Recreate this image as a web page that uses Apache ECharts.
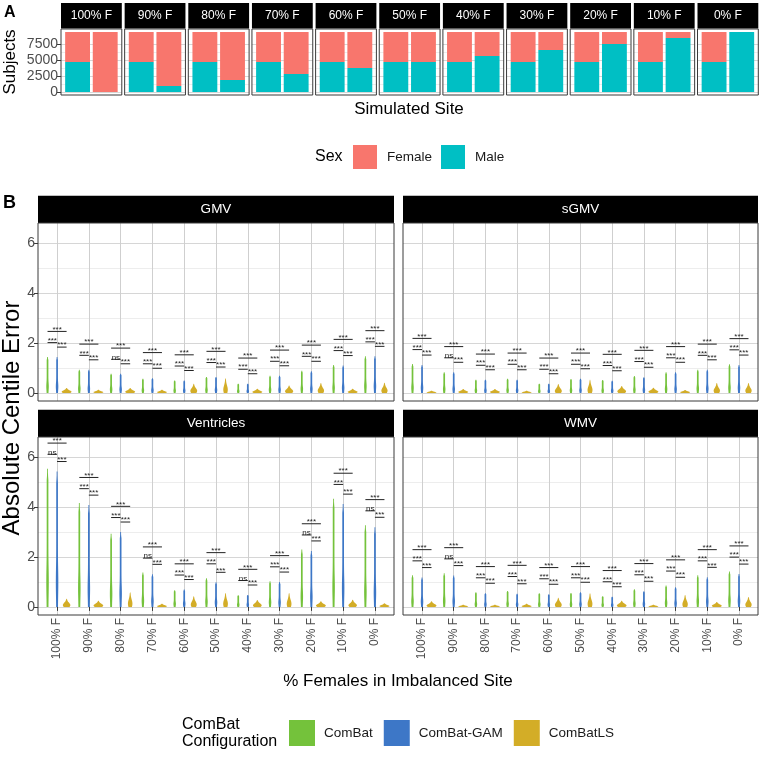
<!DOCTYPE html>
<html><head><meta charset="utf-8">
<script src="https://cdn.jsdelivr.net/npm/echarts@6/dist/echarts.min.js"></script>
<style>html,body{margin:0;padding:0;background:#fff}#c{width:763px;height:757px}</style>
</head><body><div id="c"></div>
<script>
// ---------------- DATA ----------------
const facetLabels = ['100% F','90% F','80% F','70% F','60% F','50% F','40% F','30% F','20% F','10% F','0% F'];
const siteCats = ['Reference site','Imbalanced site'];
const femaleRef = [4700,4700,4700,4700,4700,4700,4700,4700,4700,4700,4700];
const maleRef   = [4700,4700,4700,4700,4700,4700,4700,4700,4700,4700,4700];
const femaleImb = [9400,8460,7520,6580,5640,4700,3760,2820,1880,940,0];
const maleImb   = [0,940,1880,2820,3760,4700,5640,6580,7520,8460,9400];
const sexTicks = [0,2500,5000,7500];

const xCats = ['100% F','90% F','80% F','70% F','60% F','50% F','40% F','30% F','20% F','10% F','0% F'];
const errTicks = [0,2,4,6];
const configs = ['ComBat','ComBat-GAM','ComBatLS'];

const gmvComBat = [1.44,0.93,0.77,0.57,0.50,0.64,0.37,0.69,0.89,1.12,1.47];
const gmvGAM    = [1.44,0.93,0.77,0.59,0.50,0.64,0.37,0.69,0.87,1.10,1.47];
const gmvLS     = [0.20,0.13,0.20,0.13,0.37,0.59,0.17,0.30,0.40,0.17,0.41];
const gmvSig    = ['***','***','ns','***','***','***','***','***','***','***','***'];

const sgmvComBat = [1.16,0.83,0.53,0.57,0.37,0.56,0.52,0.68,0.83,0.93,1.15];
const sgmvGAM    = [1.12,0.83,0.53,0.53,0.37,0.57,0.49,0.63,0.83,0.93,1.12];
const sgmvLS     = [0.09,0.16,0.16,0.09,0.36,0.53,0.28,0.21,0.12,0.40,0.40];
const sgmvSig    = ['***','ns','***','***','***','***','***','***','***','***','***'];

const ventComBat = [5.55,4.17,2.94,1.38,0.67,1.15,0.47,1.03,2.31,4.34,3.28];
const ventGAM    = [5.44,4.09,3.01,1.31,0.70,0.99,0.48,1.00,2.25,4.13,3.20];
const ventLS     = [0.33,0.25,0.59,0.13,0.43,0.56,0.28,0.56,0.23,0.29,0.15];
const ventSig    = ['ns','***','***','ns','***','***','ns','***','ns','***','ns'];

const wmvComBat = [1.27,1.35,0.59,0.64,0.55,0.56,0.43,0.71,0.86,1.27,1.42];
const wmvGAM    = [1.18,1.26,0.55,0.53,0.51,0.59,0.41,0.63,0.79,1.19,1.32];
const wmvLS     = [0.23,0.09,0.09,0.13,0.37,0.55,0.25,0.09,0.48,0.20,0.40];
const wmvSig    = ['***','ns','***','***','***','***','***','***','***','***','***'];

// ---------------- STYLE / LAYOUT ----------------
const FONT = '"Liberation Sans", Arial, Helvetica, sans-serif';
const COL_F = '#F8766D', COL_M = '#00BFC4';
const COLS = ['#74c23b', '#3d77c7', '#d3ad27'];
const GRID_MAJ = '#d6d6d6', GRID_VERT = '#cfcfcf', GRID_MIN = '#ededed', BORDER = '#3a3a3a', TICKCOL = '#4d4d4d';

const A_LEFT0 = 61, A_PITCH = 63.65, A_W = 60.8, A_TOP = 29, A_H = 66, A_YMIN = -470, A_YMAX = 9870;
const B_H = 178, B_YMIN = -0.325, B_YMAX = 6.825;
const panelsB = [
  {name:'GMV', L:38, T:223, W:356, g:gmvComBat, b:gmvGAM, y:gmvLS, sig:gmvSig, left:true, bottom:false},
  {name:'sGMV', L:403, T:223, W:355, g:sgmvComBat, b:sgmvGAM, y:sgmvLS, sig:sgmvSig, left:false, bottom:false},
  {name:'Ventricles', L:38, T:437, W:356, g:ventComBat, b:ventGAM, y:ventLS, sig:ventSig, left:true, bottom:true},
  {name:'WMV', L:403, T:437, W:355, g:wmvComBat, b:wmvGAM, y:wmvLS, sig:wmvSig, left:false, bottom:true}
];

const grids = [], xAxes = [], yAxes = [], series = [], graphics = [];
function addGrid(g) { grids.push(Object.assign({outerBoundsMode:'none', containLabel:false, show:false}, g)); return grids.length - 1; }
function txt(x, y, text, o) {
  o = o || {};
  graphics.push({type:'text', x:x, y:y, rotation:o.rot || 0, z:20,
    style:{text:text, align:o.align || 'center', verticalAlign:o.va || 'middle',
      fontSize:o.size || 13, fontFamily:FONT, fontWeight:o.weight || 'normal', fill:o.color || '#000', lineHeight:o.lh}});
}
function rect(x, y, w, h, fill, stroke, z) {
  graphics.push({type:'rect', z:z || 15, shape:{x:x, y:y, width:w, height:h},
    style:{fill:fill || 'none', stroke:stroke || null, lineWidth:1}, silent:true});
}

// ---------------- PANEL A ----------------
const ppuA = A_H / (A_YMAX - A_YMIN);
const topTick = sexTicks[sexTicks.length - 1];
for (let f = 0; f < facetLabels.length; f++) {
  const L = A_LEFT0 + A_PITCH * f;
  const gi = addGrid({left:L, top:A_TOP + (A_YMAX - topTick) * ppuA, width:A_W, height:topTick * ppuA});
  xAxes.push({gridIndex:gi, type:'value', show:false, min:0, max:1});
  yAxes.push({gridIndex:gi, type:'value', min:0, max:topTick, interval:sexTicks[1] - sexTicks[0],
    axisLine:{show:false}, axisTick:{show:f === 0, length:4, lineStyle:{color:BORDER}},
    axisLabel:{show:f === 0, fontSize:14, color:TICKCOL, margin:3, fontFamily:FONT,
      formatter:function (v) { return String(v); }},
    splitLine:{show:true, lineStyle:{color:GRID_MAJ, width:1}},
    minorTick:{show:false, splitNumber:2}, minorSplitLine:{show:true, lineStyle:{color:GRID_MIN, width:1}}});
  const uA = A_W / 2.2;
  const di = addGrid({left:L + 0.1 * uA, top:A_TOP, width:2 * uA, height:A_H});
  xAxes.push({gridIndex:di, type:'category', data:siteCats, show:false});
  yAxes.push({gridIndex:di, type:'value', min:A_YMIN, max:A_YMAX, show:false, splitLine:{show:false}});
  series.push({type:'bar', name:'Male', stack:'s' + f, xAxisIndex:di, yAxisIndex:di, barWidth:'90%',
    data:[maleRef[f], maleImb[f]], itemStyle:{color:COL_M}});
  series.push({type:'bar', name:'Female', stack:'s' + f, xAxisIndex:di, yAxisIndex:di, barWidth:'90%',
    data:[femaleRef[f], femaleImb[f]], itemStyle:{color:COL_F}});
  rect(L, 3, A_W, 25.5, '#000', null, 14);
  txt(L + A_W / 2, 16, facetLabels[f], {size:12, color:'#fff'});
  rect(L, A_TOP, A_W, A_H, 'none', BORDER, 16);
}
txt(4, 12.5, 'A', {align:'left', size:16, weight:'bold'});
txt(10, 62, 'Subjects', {rot:Math.PI / 2, size:17});
txt(409, 109, 'Simulated Site', {size:17});
txt(315, 157, 'Sex', {align:'left', size:16});

// ---------------- PANEL B ----------------
function violin(offset, kind) {
  return function (params, api) {
    const x = api.value(0), m = api.value(1);
    const p0 = api.coord([x + offset, 0]);
    const p1 = api.coord([x + offset, m]);
    const H = Math.max(p0[1] - p1[1], 0.5);
    const n = 36, lp = [], rp = [];
    const Wls = Math.min(4.6, 28 / H);
    for (let k = 0; k <= n; k++) {
      const t = k / n;
      let hw;
      if (kind === 'ls') hw = Wls * Math.exp(-Math.pow((t - 0.22) / 0.4, 2)) + 0.35;
      else hw = 0.85 + 0.4 * Math.exp(-Math.pow((t - 0.18) / 0.14, 2));
      if (t > 0.92) hw *= Math.max(0.5, (1 - t) / 0.08);
      const yy = p0[1] - t * H;
      lp.push([p0[0] - hw, yy]);
      rp.unshift([p0[0] + hw, yy]);
    }
    return {type:'polygon', shape:{points:lp.concat(rp)}, style:{fill:api.visual('color'), stroke:null}};
  };
}
function brackets(P) {
  return function (params, api) {
    const i = params.dataIndex, x = api.value(0);
    const M = Math.max(P.g[i], P.b[i], P.y[i]);
    const yt = M + 1.03, yl = Math.max(P.g[i], P.b[i]) + 0.58, yr = Math.max(P.b[i], P.y[i]) + 0.40;
    const items = [];
    function seg(x1, x2, yv, label) {
      const a = api.coord([x1, yv]), b = api.coord([x2, yv]);
      items.push({type:'line', shape:{x1:a[0], y1:a[1], x2:b[0], y2:b[1]}, style:{stroke:'#222', lineWidth:1}});
      items.push({type:'text', style:{text:label, x:(a[0] + b[0]) / 2, y:a[1] - 2, align:'center', verticalAlign:'middle',
        fontSize:8, fontFamily:FONT, fill:'#222'}});
    }
    seg(x - 0.3, x + 0.3, yt, '***');
    seg(x - 0.3, x, yl, P.sig[i]);
    seg(x, x + 0.3, yr, '***');
    return {type:'group', children:items};
  };
}
const ppuB = B_H / (B_YMAX - B_YMIN);
const topErr = errTicks[errTicks.length - 1];
panelsB.forEach(function (P) {
  const gi = addGrid({left:P.L, top:P.T + (B_YMAX - topErr) * ppuB, width:P.W, height:topErr * ppuB});
  xAxes.push({gridIndex:gi, type:'value', show:false, min:0, max:1});
  yAxes.push({gridIndex:gi, type:'value', min:0, max:topErr, interval:errTicks[1] - errTicks[0],
    axisLine:{show:false}, axisTick:{show:P.left, length:4, lineStyle:{color:BORDER}},
    axisLabel:{show:P.left, fontSize:14, color:TICKCOL, margin:3, fontFamily:FONT},
    splitLine:{show:true, lineStyle:{color:GRID_MAJ, width:1}},
    minorTick:{show:false, splitNumber:2}, minorSplitLine:{show:true, lineStyle:{color:GRID_MIN, width:1}}});
  const u = P.W / (xCats.length + 0.2);
  const di = addGrid({left:P.L + 0.6 * u, top:P.T, width:(xCats.length - 1) * u, height:B_H});
  xAxes.push({gridIndex:di, type:'value', min:1, max:xCats.length, interval:1,
    axisLine:{show:false}, axisTick:{show:P.bottom, length:4, lineStyle:{color:BORDER}},
    axisLabel:{show:P.bottom, rotate:90, fontSize:12, color:TICKCOL, margin:3, fontFamily:FONT,
      formatter:function (v) { return xCats[Math.round(v) - 1] || ''; }},
    splitLine:{show:true, lineStyle:{color:GRID_VERT, width:1}}});
  yAxes.push({gridIndex:di, type:'value', min:B_YMIN, max:B_YMAX, show:false, splitLine:{show:false}});
  const vals = [P.g, P.b, P.y], offs = [-0.3, 0, 0.3], kinds = ['cb', 'cb', 'ls'];
  for (let c = 0; c < 3; c++) {
    series.push({type:'custom', name:configs[c], xAxisIndex:di, yAxisIndex:di, z:3,
      itemStyle:{color:COLS[c]}, renderItem:violin(offs[c], kinds[c]),
      encode:{x:0, y:1}, data:vals[c].map(function (v, i) { return [i + 1, v]; })});
  }
  series.push({type:'custom', name:'significance', xAxisIndex:di, yAxisIndex:di, z:4,
    renderItem:brackets(P), encode:{x:0, y:1},
    data:xCats.map(function (c, i) { return [i + 1, Math.max(P.g[i], P.b[i], P.y[i])]; })});
  rect(P.L, P.T - 27.3, P.W, 27.3, '#000', null, 14);
  txt(P.L + P.W / 2, P.T - 13.5, P.name, {size:13.5, color:'#fff'});
  rect(P.L, P.T, P.W, B_H, 'none', BORDER, 16);
});
txt(3, 203.5, 'B', {align:'left', size:18, weight:'bold'});
txt(12, 418, 'Absolute Centile Error', {rot:Math.PI / 2, size:24});
txt(398, 681, '% Females in Imbalanced Site', {size:17});
txt(182, 733, 'ComBat\nConfiguration', {align:'left', size:16, lh:17});

const chart = echarts.init(document.getElementById('c'), null, {renderer:'canvas'});
chart.setOption({
  animation:false,
  backgroundColor:'#fff',
  grid:grids, xAxis:xAxes, yAxis:yAxes, series:series, graphic:graphics,
  legend:[
    {data:['Female', 'Male'], left:353, top:145, padding:0, itemWidth:24, itemHeight:24, itemGap:9, icon:'rect',
      selectedMode:false, textStyle:{fontSize:13.5, color:'#1a1a1a', fontFamily:FONT, padding:[0, 0, 0, 5]}},
    {data:configs, left:289, top:720, padding:0, itemWidth:26, itemHeight:26, itemGap:11, icon:'rect',
      selectedMode:false, textStyle:{fontSize:13.5, color:'#1a1a1a', fontFamily:FONT, padding:[0, 0, 0, 4]}}
  ]
});
</script></body></html>
